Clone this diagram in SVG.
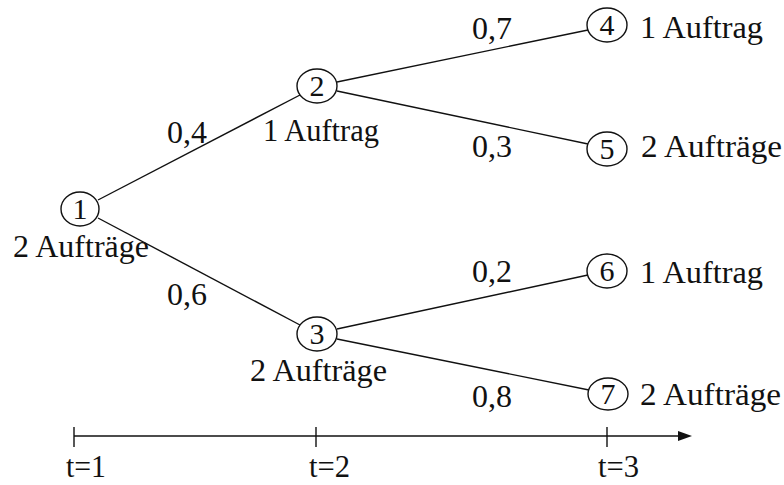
<svg xmlns="http://www.w3.org/2000/svg" width="784" height="485" viewBox="0 0 784 485">
<style>
text{font-family:"Liberation Serif","Times New Roman",serif;font-size:31px;fill:#111}
.n{text-anchor:middle;font-size:30px}
.c{fill:#fff;stroke:#111;stroke-width:1.4}
.e{stroke:#111;stroke-width:1.4;fill:none}
</style>
<rect width="784" height="485" fill="#fff"/>
<g id="connectors">
<line class="e" x1="98" y1="200" x2="300" y2="95"/>
<line class="e" x1="98" y1="218" x2="300" y2="325"/>
<line class="e" x1="337" y1="82" x2="588" y2="30"/>
<line class="e" x1="337" y1="91" x2="588" y2="144"/>
<line class="e" x1="337" y1="329" x2="588" y2="275"/>
<line class="e" x1="337" y1="339" x2="589" y2="390"/>
<text x="167" y="143" textLength="40" lengthAdjust="spacingAndGlyphs">0,4</text>
<text x="167" y="305" textLength="40" lengthAdjust="spacingAndGlyphs">0,6</text>
<text x="472" y="39" textLength="40" lengthAdjust="spacingAndGlyphs">0,7</text>
<text x="472" y="157" textLength="40" lengthAdjust="spacingAndGlyphs">0,3</text>
<text x="472" y="282" textLength="40" lengthAdjust="spacingAndGlyphs">0,2</text>
<text x="472" y="407" textLength="40" lengthAdjust="spacingAndGlyphs">0,8</text>
</g>
<g id="n1"><ellipse class="c" cx="80" cy="209" rx="19" ry="17"/><text class="n" x="80" y="219">1</text><text x="13" y="257" textLength="136" lengthAdjust="spacingAndGlyphs">2 Aufträge</text></g>
<g id="n2"><ellipse class="c" cx="317" cy="86" rx="20" ry="17"/><text class="n" x="317" y="96">2</text><text x="263" y="141" textLength="116" lengthAdjust="spacingAndGlyphs">1 Auftrag</text></g>
<g id="n3"><ellipse class="c" cx="317" cy="334" rx="20" ry="17"/><text class="n" x="317" y="344">3</text><text x="250" y="381" textLength="137" lengthAdjust="spacingAndGlyphs">2 Aufträge</text></g>
<g id="n4"><ellipse class="c" cx="607" cy="25" rx="20" ry="17"/><text class="n" x="607" y="35">4</text><text x="640" y="38" textLength="123" lengthAdjust="spacingAndGlyphs">1 Auftrag</text></g>
<g id="n5"><ellipse class="c" cx="607" cy="149" rx="20" ry="17"/><text class="n" x="607" y="159">5</text><text x="641" y="157" textLength="141" lengthAdjust="spacingAndGlyphs">2 Aufträge</text></g>
<g id="n6"><ellipse class="c" cx="607" cy="271" rx="20" ry="17"/><text class="n" x="607" y="281">6</text><text x="640" y="283" textLength="123" lengthAdjust="spacingAndGlyphs">1 Auftrag</text></g>
<g id="n7"><ellipse class="c" cx="608" cy="394" rx="20" ry="16"/><text class="n" x="608" y="404">7</text><text x="640" y="405" textLength="141" lengthAdjust="spacingAndGlyphs">2 Aufträge</text></g>
<g id="axis">
<line class="e" x1="74" y1="436" x2="682" y2="436"/>
<polygon points="678,431 692,436 678,441" fill="#111"/>
<line class="e" x1="74" y1="427" x2="74" y2="447"/>
<line class="e" x1="316" y1="427" x2="316" y2="447"/>
<line class="e" x1="607" y1="427" x2="607" y2="447"/>
<text x="66" y="477" textLength="40" lengthAdjust="spacingAndGlyphs">t=1</text>
<text x="309" y="477" textLength="41" lengthAdjust="spacingAndGlyphs">t=2</text>
<text x="598" y="477" textLength="41" lengthAdjust="spacingAndGlyphs">t=3</text>
</g>
</svg>
